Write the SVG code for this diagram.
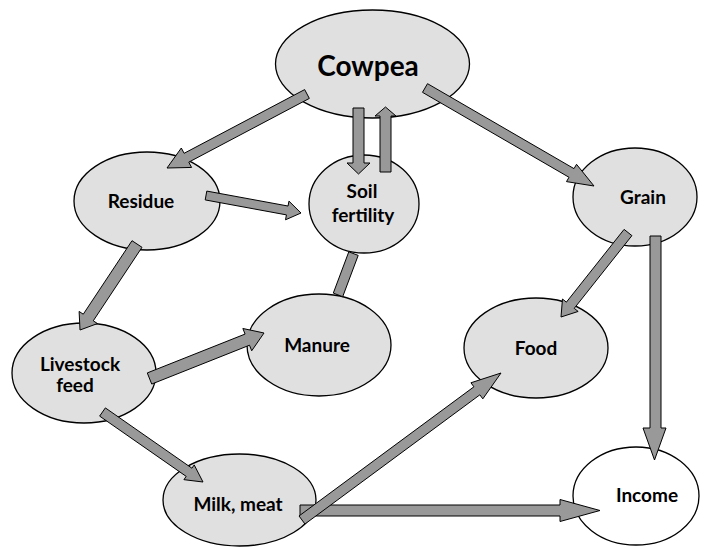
<svg xmlns="http://www.w3.org/2000/svg" width="707" height="547" viewBox="0 0 707 547">
<style>
.node ellipse{fill:#e0e0e0;stroke:#000;stroke-width:1.3}
.node.white ellipse{fill:#fff}
.node text{font-family:Lato,"Open Sans","Liberation Sans",sans-serif;font-weight:bold;font-size:19px;fill:#000;text-anchor:middle}
.conn polygon{fill:#999;stroke:#000;stroke-width:1;stroke-linejoin:miter}
</style>
<rect width="707" height="547" fill="#fff"/>
<g id="node-cowpea" class="node"><ellipse cx="372.5" cy="64" rx="97" ry="54"/><text x="368" y="76" style="font-size:28px">Cowpea</text></g>
<g id="node-residue" class="node"><ellipse cx="147" cy="201" rx="73" ry="49"/><text x="141" y="208">Residue</text></g>
<g id="node-soil" class="node"><ellipse cx="364" cy="204" rx="55" ry="49"/><text x="362" y="198">Soil</text><text x="363" y="222">fertility</text></g>
<g id="node-grain" class="node"><ellipse cx="635" cy="197" rx="62" ry="49"/><text x="643" y="204">Grain</text></g>
<g id="node-livestock" class="node"><ellipse cx="84" cy="373" rx="72" ry="50"/><text x="80" y="371">Livestock</text><text x="75" y="392">feed</text></g>
<g id="node-manure" class="node"><ellipse cx="319" cy="345" rx="72" ry="51"/><text x="317" y="352">Manure</text></g>
<g id="node-food" class="node"><ellipse cx="536" cy="348" rx="72" ry="50"/><text x="536" y="355">Food</text></g>
<g id="node-milk" class="node"><ellipse cx="239.5" cy="500" rx="76.5" ry="46"/><text x="238" y="511">Milk, meat</text></g>
<g id="node-income" class="node white"><ellipse cx="636" cy="496" rx="63" ry="49"/><text x="647" y="502">Income</text></g>
<g id="connectors" class="conn">
<polygon points="348.8,251.8 333.3,293.1 342.7,296.7 358.2,255.4"/>
<polygon points="304.66,89.58 184.11,153.31 181.31,148.01 167,168 191.59,167.45 188.79,162.15 309.34,98.42"/>
<polygon points="353,108 353,163 347,163 358.5,174 370,163 364,163 364,108"/>
<polygon points="380,172 380,116 375,116 385.5,107 396,116 391,116 391,172"/>
<polygon points="422.49,92.33 569,177.29 566.49,181.61 594,186 576.53,164.31 574.02,168.63 427.51,83.67"/>
<polygon points="205.19,199.92 286.43,214.88 285.52,219.8 301,213 288.96,201.12 288.05,206.04 206.81,191.08"/>
<polygon points="132,240.69 83.28,314.19 79.12,311.43 80,330 97.44,323.57 93.28,320.81 142,247.31"/>
<polygon points="151.71,384.07 249.49,345.21 251.71,350.79 264,333 242.85,328.49 245.07,334.07 147.29,372.93"/>
<polygon points="99.64,416.1 186.2,476.39 183.92,479.67 203,482 194.2,464.91 191.92,468.19 105.36,407.9"/>
<polygon points="300,505 560,505 560,499.5 600,510.5 560,521.5 560,516 300,516"/>
<polygon points="304.97,524.02 479.85,394.84 482.82,398.86 501,373 470.94,382.78 473.91,386.8 299.03,515.98"/>
<polygon points="624.08,229.39 566.4,302.13 562.48,299.03 561,317 578.16,311.45 574.24,308.35 631.92,235.61"/>
<polygon points="650,236 650,428 643,428 654.5,460 666,428 661,428 661,236"/>
</g>
</svg>
